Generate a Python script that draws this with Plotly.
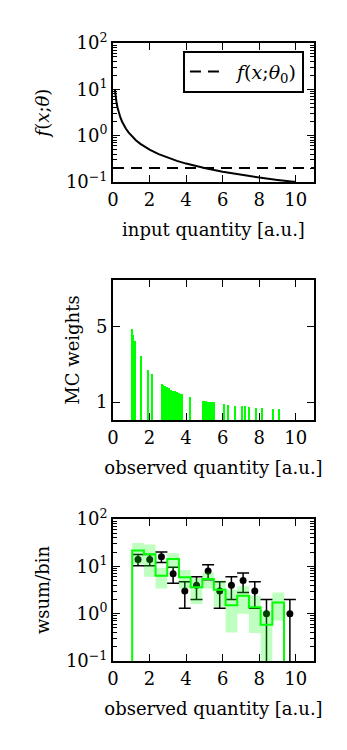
import plotly.graph_objects as go

# ---------------- data ----------------
# panel 1: f(x; theta) curve and reference f(x; theta0)
curve_x = [0.1, 0.12, 0.15, 0.2, 0.25, 0.3, 0.4, 0.5, 0.6, 0.7, 0.85, 1.0, 1.25, 1.5, 1.75, 2.0, 2.5, 3.0, 3.5, 4.0, 5.0, 6.0, 7.0, 8.0, 9.0, 10.0]
curve_y = [10.0, 8.33, 6.67, 5.0, 4.0, 3.33, 2.5, 2.0, 1.67, 1.43, 1.18, 1.0, 0.8, 0.667, 0.571, 0.5, 0.4, 0.333, 0.286, 0.25, 0.2, 0.167, 0.143, 0.125, 0.111, 0.1]
ref_x = [0.0, 11.0]
ref_y = [0.2, 0.2]

# panel 2: MC event positions and weights
mc_x = [1.04, 1.12, 1.19, 1.51, 1.94, 2.11, 2.67, 2.76, 2.86, 2.96, 3.06, 3.2, 3.3, 3.4, 3.5, 3.6, 3.7, 3.8,
        4.22, 4.9, 5.0, 5.07, 5.2, 5.3, 5.4, 5.5, 6.1, 6.31, 6.66, 7.07, 7.2, 7.42, 7.83, 8.17, 8.77, 9.08]
mc_w = [4.85, 4.55, 4.25, 3.43, 2.69, 2.48, 1.98, 1.88, 1.84, 1.80, 1.76, 1.62, 1.59, 1.56, 1.52, 1.48, 1.44, 1.40,
        1.26, 1.08, 1.07, 1.07, 1.01, 1.0, 1.0, 0.99, 0.89, 0.86, 0.80, 0.78, 0.77, 0.74, 0.70, 0.68, 0.65, 0.63]

# panel 3: binned comparison
bin_edges = [1.05, 1.69, 2.33, 2.97, 3.61, 4.25, 4.89, 5.52, 6.16, 6.80, 7.44, 8.08, 8.72, 9.36, 10.0]
mc_sum = [21.6, 18.1, 6.3, 14.2, 5.9, 3.6, 5.4, 3.2, 1.5, 2.4, 1.37, 0.58, 1.71]
mc_lo = [11.0, 6.0, 3.4, 9.0, 3.4, 1.6, 3.4, 1.4, 0.4, 1.0, 0.39, 0.001, 0.72]
mc_hi = [31.0, 29.0, 9.3, 19.0, 8.4, 5.6, 7.4, 5.0, 3.2, 3.8, 2.4, 1.15, 2.8]
data_n = [14, 14, 16, 7, 3, 4, 8, 3, 4, 5, 3, 1, None, 1]
data_err_up = [3.7, 3.7, 4.0, 2.6, 1.7, 2.0, 2.8, 1.7, 2.0, 2.2, 1.7, 1.0, None, 1.0]
data_err_dn = [3.7, 3.7, 4.0, 2.6, 1.7, 2.0, 2.8, 1.7, 2.0, 2.2, 1.7, 0.999, None, 0.999]

x_ticks = [0, 2, 4, 6, 8, 10]
log_tickvals = [0.1, 1, 10, 100]
log_ticktext = ["10<sup>−1</sup>", "10<sup>0</sup>", "10<sup>1</sup>", "10<sup>2</sup>"]
w_tickvals = [1, 5]

# ---------------- figure ----------------
FONT = "DejaVu Serif"
GREEN = "#00ff00"
fig = go.Figure()

# panel 1
fig.add_trace(go.Scatter(x=curve_x, y=curve_y, mode="lines", line=dict(color="black", width=2),
                         showlegend=False, xaxis="x", yaxis="y"))
fig.add_trace(go.Scatter(x=ref_x, y=ref_y, mode="lines", line=dict(color="black", width=2, dash="11px,7px"),
                         name="\u00a0\u00a0<i>f</i>(<i>x</i>;<i>θ</i><sub>0</sub>)", xaxis="x", yaxis="y"))

# panel 2
fig.add_trace(go.Bar(x=mc_x, y=mc_w, width=0.11, marker=dict(color=GREEN, line=dict(width=0)),
                     showlegend=False, xaxis="x2", yaxis="y2"))

# panel 3: data points
centers = [(bin_edges[i] + bin_edges[i + 1]) / 2 for i in range(len(bin_edges) - 1)]
fig.add_trace(go.Scatter(x=centers, y=data_n, mode="markers",
                         marker=dict(color="black", size=7),
                         error_y=dict(type="data", symmetric=False, array=data_err_up, arrayminus=data_err_dn,
                                      color="black", thickness=1.5, width=6),
                         showlegend=False, xaxis="x3", yaxis="y3"))
# band
bx, by = [], []
for i in range(len(mc_sum)):
    a, b = bin_edges[i], bin_edges[i + 1]
    bx += [a, b, b, a, a, None]
    by += [mc_lo[i], mc_lo[i], mc_hi[i], mc_hi[i], mc_lo[i], None]
fig.add_trace(go.Scatter(x=bx, y=by, mode="none", fill="toself", fillcolor="rgba(0,255,0,0.25)",
                         showlegend=False, xaxis="x3", yaxis="y3", hoverinfo="skip"))
# step line
sx = [bin_edges[0]] + bin_edges[:len(mc_sum)] + [bin_edges[len(mc_sum)]]
sy = [0.001] + mc_sum + [0.001]
fig.add_trace(go.Scatter(x=sx, y=sy, mode="lines", line=dict(color=GREEN, width=2, shape="hv"),
                         showlegend=False, xaxis="x3", yaxis="y3"))

FS = 18
tickfont = dict(family=FONT, size=FS, color="black")
titlefont = dict(family=FONT, size=FS, color="black")

def xaxis(domain_anchor, title):
    return dict(domain=[0, 1], anchor=domain_anchor, range=[0, 11], tickvals=x_ticks,
                ticks="inside", ticklen=7, tickwidth=1, tickcolor="black",
                showline=True, linecolor="black", linewidth=2, mirror="ticks",
                showgrid=False, zeroline=False, tickfont=tickfont, automargin=False,
                title=dict(text=title, font=titlefont, standoff=15))

def logy(domain, anchor, title):
    return dict(domain=domain, anchor=anchor, type="log", range=[-1, 2],
                tickvals=log_tickvals, ticktext=log_ticktext,
                ticks="inside", ticklen=7, tickwidth=1, tickcolor="black",
                minor=dict(ticks="inside", ticklen=4, tickwidth=1, tickcolor="black", dtick="D1", showgrid=False),
                showline=True, linecolor="black", linewidth=2, mirror="ticks",
                showgrid=False, zeroline=False, tickfont=tickfont, automargin=False,
                title=dict(text=title, font=titlefont, standoff=12))

fig.update_layout(
    width=347, height=750,
    margin=dict(l=113, r=33, t=0, b=0),
    paper_bgcolor="white", plot_bgcolor="white",
    font=dict(family=FONT, size=FS, color="black"),
    xaxis=xaxis("y", "input quantity [a.u.]"),
    yaxis=logy([0.7573, 0.9427], "x", "<i>f</i>(<i>x</i>;<i>θ</i>)"),
    xaxis2=xaxis("y2", "observed quantity [a.u.]"),
    yaxis2=dict(domain=[0.44, 0.6267], anchor="x2", range=[0.05, 7.45], tickvals=w_tickvals,
                ticks="inside", ticklen=7, tickwidth=1, tickcolor="black",
                showline=True, linecolor="black", linewidth=2, mirror="ticks",
                showgrid=False, zeroline=False, tickfont=tickfont, automargin=False,
                title=dict(text="MC weights", font=titlefont, standoff=12)),
    xaxis3=xaxis("y3", "observed quantity [a.u.]"),
    yaxis3=logy([0.1187, 0.308], "x3", "wsum/bin"),
    legend=dict(x=0.95, y=0.9324, xanchor="right", yanchor="top", bgcolor="white",
                bordercolor="black", borderwidth=2, itemwidth=30,
                font=dict(family=FONT, size=19, color="black")),
    bargap=0,
)

fig.write_html("out.html")
